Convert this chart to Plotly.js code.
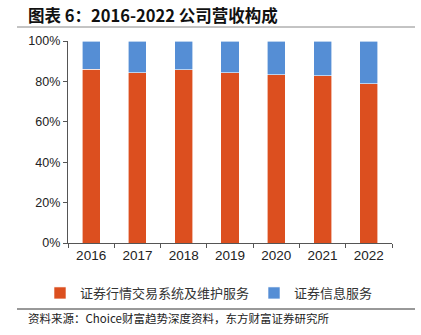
<!DOCTYPE html>
<html>
<head>
<meta charset="utf-8">
<script src="https://cdn.plot.ly/plotly-3.0.1.min.js"></script>
<style>html,body{margin:0;padding:0;background:#fff;}#chart{width:421px;height:335px;}</style>
</head>
<body>
<div id="chart"></div>
<script>
const years = ['2016','2017','2018','2019','2020','2021','2022'];
const tradingSystem = [86.1, 84.2, 85.8, 84.2, 83.2, 82.8, 78.9];
const infoService = [13.9, 15.8, 14.2, 15.8, 16.8, 17.2, 21.1];
const seriesNames = ['证券行情交易系统及维护服务', '证券信息服务'];
const yTicks = [0, 20, 40, 60, 80, 100];
const yTickText = ['0%', '20%', '40%', '60%', '80%', '100%'];

const font = '"Noto Sans CJK SC", "Noto Sans", sans-serif';
const traces = [
  {type: 'bar', name: seriesNames[0], x: years, y: tradingSystem,
   marker: {color: '#DC4F1F', line: {color: '#ffffff', width: 0.6}}},
  {type: 'bar', name: seriesNames[1], x: years, y: infoService,
   marker: {color: '#558ED5', line: {color: '#ffffff', width: 0.6}}}
];
const layout = {
  width: 421, height: 335,
  margin: {l: 68, r: 29, t: 41, b: 92},
  barmode: 'stack', bargap: 0.61,
  paper_bgcolor: '#fff', plot_bgcolor: '#fff',
  showlegend: true,
  legend: {orientation: 'h', x: (40 - 68) / 324, xanchor: 'left', y: (243 - 293) / 202, yanchor: 'middle',
           traceorder: 'normal',
           font: {family: font, size: 13, color: '#333'}, itemwidth: 30, tracegroupgap: 0},
  xaxis: {type: 'category', showline: true, linecolor: '#555', linewidth: 1.2,
          ticks: 'outside', ticklen: 4, tickcolor: '#555', tickson: 'boundaries',
          tickfont: {family: 'Arial, "Liberation Sans", sans-serif', size: 13.5, color: '#222'},
          showgrid: false, zeroline: false, fixedrange: true},
  yaxis: {range: [0, 100], tickvals: yTicks, ticktext: yTickText,
          showline: true, linecolor: '#555', linewidth: 1.2,
          ticks: 'outside', ticklen: 4, tickcolor: '#555',
          tickfont: {family: 'Arial, "Liberation Sans", sans-serif', size: 12.5, color: '#222'},
          showgrid: false, zeroline: false, fixedrange: true},
  annotations: [
    {text: '<b>图表 6：2016-2022 公司营收构成</b>', xref: 'paper', yref: 'paper',
     x: (26 - 68) / 324, y: (243 - 15) / 202, xanchor: 'left', yanchor: 'middle', showarrow: false,
     font: {family: font, size: 16.5, color: '#111'}},
    {text: '资料来源：Choice财富趋势深度资料，东方财富证券研究所', xref: 'paper', yref: 'paper',
     x: (26 - 68) / 324, y: (243 - 318) / 202, xanchor: 'left', yanchor: 'middle', showarrow: false,
     font: {family: font, size: 11.5, color: '#222'}}
  ],
  shapes: [
    {type: 'line', xref: 'paper', yref: 'paper', x0: (17 - 68) / 324, x1: (415 - 68) / 324,
     y0: (243 - 27) / 202, y1: (243 - 27) / 202, line: {color: '#888', width: 1}},
    {type: 'line', xref: 'paper', yref: 'paper', x0: (17 - 68) / 324, x1: (415 - 68) / 324,
     y0: (243 - 309) / 202, y1: (243 - 309) / 202, line: {color: '#333', width: 1}}
  ]
};
Plotly.newPlot('chart', traces, layout, {displayModeBar: false, staticPlot: true});
</script>
</body>
</html>
